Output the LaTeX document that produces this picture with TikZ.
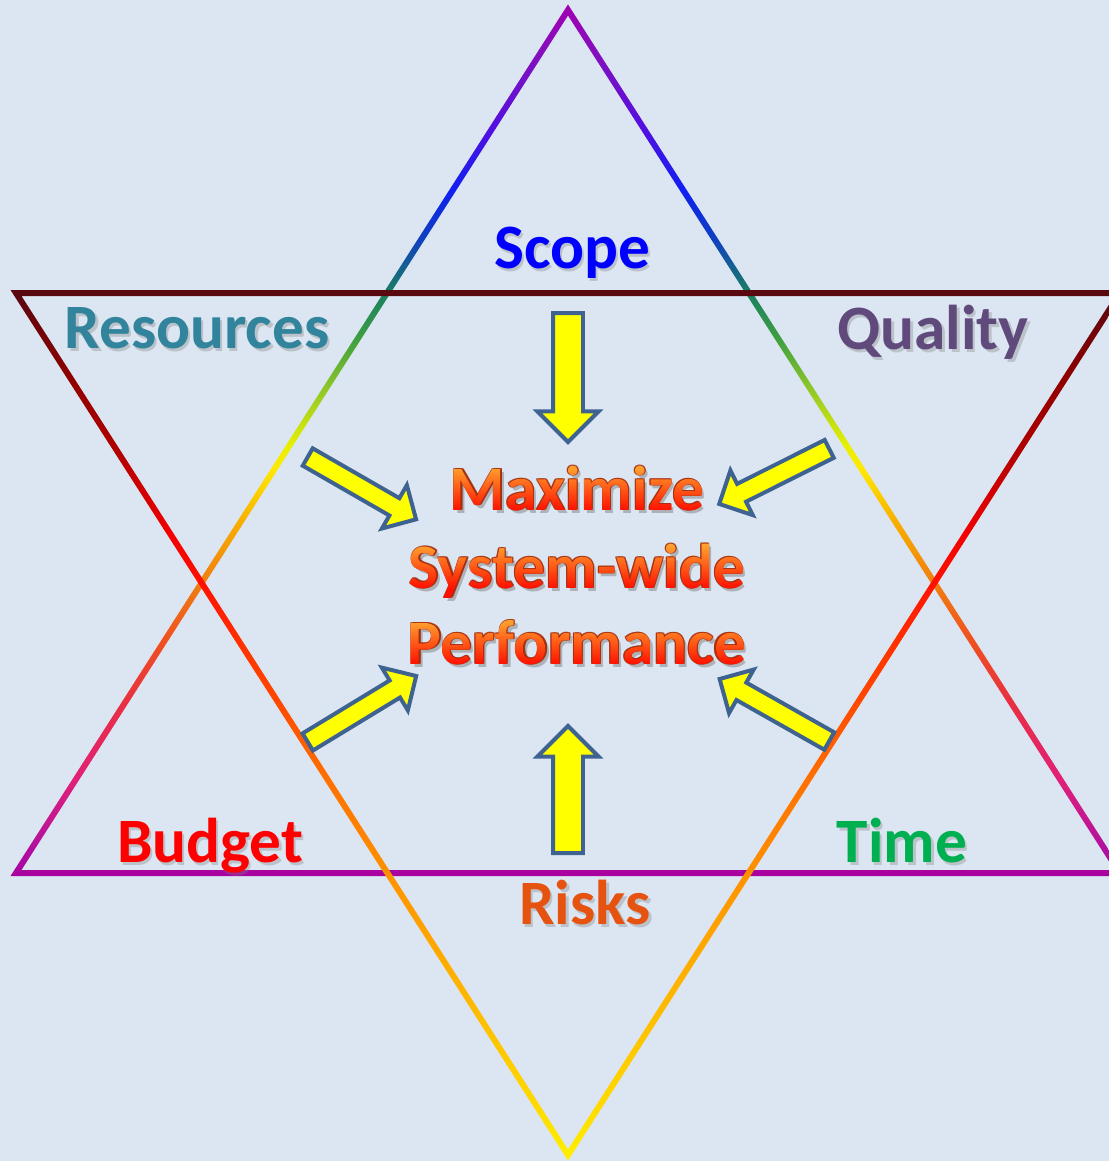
\documentclass[tikz,border=0pt]{standalone}
\usepackage{fontspec}
\setmainfont{Carlito}
\usetikzlibrary{calc,fadings,shapes.arrows}

\definecolor{paper}{HTML}{DCE6F2}
\definecolor{arrowrim}{HTML}{3E6391}
\definecolor{arrowfill}{HTML}{FFFF00}
\definecolor{scopeblue}{HTML}{0000FF}
\definecolor{resteal}{HTML}{31849B}
\definecolor{qualpurple}{HTML}{604A7B}
\definecolor{budgetred}{HTML}{FF0000}
\definecolor{timegreen}{HTML}{00B050}
\definecolor{riskorange}{HTML}{E65310}
\definecolor{glowtop}{HTML}{FFDB40}
\definecolor{glowbase}{HTML}{FF1000}
\definecolor{glowrim}{HTML}{A52A0A}

\newcommand\factorfont{\fontsize{36}{40}\selectfont\bfseries}

% rainbow rims, 25bp..75bp covers the ring from bottom to top
\pgfdeclareverticalshading{rimup}{100bp}{
  rgb(0bp)=(0.659,0,0.627); rgb(25bp)=(0.659,0,0.627);
  rgb(26.5bp)=(0.69,0.063,0.627); rgb(30.5bp)=(0.878,0.125,0.478);
  rgb(35.1bp)=(0.91,0.188,0.251); rgb(38.5bp)=(0.941,0.314,0.125);
  rgb(42bp)=(0.941,0.502,0.063); rgb(45.4bp)=(0.973,0.69,0);
  rgb(48.3bp)=(1,0.91,0); rgb(49.7bp)=(0.91,0.941,0);
  rgb(52.9bp)=(0.565,0.784,0.157); rgb(55.75bp)=(0.251,0.627,0.251);
  rgb(58.4bp)=(0.102,0.502,0.376); rgb(61.5bp)=(0.063,0.251,0.753);
  rgb(64.35bp)=(0.063,0.125,0.941); rgb(67.8bp)=(0.314,0.063,0.878);
  rgb(71.8bp)=(0.502,0.063,0.753); rgb(75bp)=(0.627,0,0.69);
  rgb(100bp)=(0.627,0,0.69)}
\pgfdeclareverticalshading{rimdown}{100bp}{
  rgb(0bp)=(1,0.941,0); rgb(25bp)=(1,0.941,0);
  rgb(28.5bp)=(1,0.847,0); rgb(34.2bp)=(1,0.722,0);
  rgb(41.7bp)=(1,0.565,0); rgb(46.9bp)=(1,0.439,0);
  rgb(51.5bp)=(1,0.282,0); rgb(54.9bp)=(1,0.188,0);
  rgb(58.3bp)=(1,0.063,0); rgb(61.2bp)=(0.941,0,0);
  rgb(65.8bp)=(0.69,0,0); rgb(69.8bp)=(0.565,0,0);
  rgb(75bp)=(0.345,0.031,0.063); rgb(100bp)=(0.345,0.031,0.063)}

% letter masks for the centre slogan (14cm x 2.4cm each)
\begin{tikzfadingfrompicture}[name=fade maxim]
  \useasboundingbox (-7,-1.2) rectangle (7,1.2);
  \node[anchor=base, inner sep=0pt, text=transparent!0, font=\factorfont] (maximMask) at (0,0) {Maximize};
\end{tikzfadingfrompicture}
\begin{tikzfadingfrompicture}[name=fade system]
  \useasboundingbox (-7,-1.2) rectangle (7,1.2);
  \node[anchor=base, inner sep=0pt, text=transparent!0, font=\factorfont] (systemMask) at (0,0) {System-wide};
\end{tikzfadingfrompicture}
\begin{tikzfadingfrompicture}[name=fade perform]
  \useasboundingbox (-7,-1.2) rectangle (7,1.2);
  \node[anchor=base, inner sep=0pt, text=transparent!0, font=\factorfont] (performMask) at (0,0) {Performance};
\end{tikzfadingfrompicture}

\begin{document}
\begin{tikzpicture}[x=0.02cm, y=-0.02cm,
    factor/.style={font=\factorfont, anchor=base, inner sep=0pt},
    dropshadow/.style={factor, text=black!50, opacity=.35},
    bigarrow/.style={single arrow, draw=arrowrim, fill=arrowfill, line width=0.08cm,
      inner xsep=0pt, inner ysep=0.26cm, anchor=tail, single arrow head extend=0.31cm},
    slimarrow/.style={bigarrow, inner ysep=0.16cm, single arrow head extend=0.3cm}]
    \useasboundingbox (0,0) rectangle (1109,1161);
    \fill[paper] (0,0) rectangle (1109,1161);
    \clip (0,0) rectangle (1109,1161);

    % triangle pointing up
    \coordinate (upTop) at (568,10);
    \coordinate (upLeft) at (16,873);
    \coordinate (upRight) at (1120,873);
    \coordinate (upMid) at (568,570.8);
    \shade[shading=rimup, even odd rule]
        ($(upMid)!1.0099!(upTop)$) -- ($(upMid)!1.0099!(upLeft)$) -- ($(upMid)!1.0099!(upRight)$) -- cycle
        ($(upMid)!0.9901!(upTop)$) -- ($(upMid)!0.9901!(upLeft)$) -- ($(upMid)!0.9901!(upRight)$) -- cycle;

    % triangle pointing down
    \coordinate (dnLeft) at (16,293);
    \coordinate (dnRight) at (1120,293);
    \coordinate (dnBottom) at (568,1155);
    \coordinate (dnMid) at (568,595);
    \shade[shading=rimdown, even odd rule]
        ($(dnMid)!1.0099!(dnLeft)$) -- ($(dnMid)!1.0099!(dnRight)$) -- ($(dnMid)!1.0099!(dnBottom)$) -- cycle
        ($(dnMid)!0.9901!(dnLeft)$) -- ($(dnMid)!0.9901!(dnRight)$) -- ($(dnMid)!0.9901!(dnBottom)$) -- cycle;

    \foreach \name/\x/\y/\col/\txt in {scope/572/268/scopeblue/Scope, resources/197/348/resteal/Resources,
        quality/933/349/qualpurple/Quality, budget/210/862/budgetred/Budget,
        time/902/862/timegreen/Time, risks/585/924/riskorange/Risks} {
        \node[dropshadow] (\name-shadow) at (\x+2.5,\y+3) {\txt};
        \node[factor, text=\col] (\name) at (\x,\y) {\txt};
    }

    \node[bigarrow, rotate=-90, minimum height=2.58cm] (scopeArrow) at (568,311) {};
    \node[bigarrow, rotate=90, minimum height=2.54cm] (risksArrow) at (568,855) {};
    \node[slimarrow, rotate=-29.9, minimum height=2.5cm] (resourcesArrow) at (306,456) {};
    \node[slimarrow, rotate=-153.4, minimum height=2.46cm] (qualityArrow) at (831,448) {};
    \node[slimarrow, rotate=31.3, minimum height=2.54cm] (budgetArrow) at (306,743) {};
    \node[slimarrow, rotate=150.5, minimum height=2.52cm] (timeArrow) at (831,742) {};

    % the fit scales a 50bp square onto the box, so undo it
    \foreach \nm/\y/\txt in {maxim/510/Maximize, system/588/System-wide, perform/664/Performance} {
        \begin{scope}[shift={(577,\y)}]
            \node[dropshadow, opacity=.5] (\nm-shadow) at (3,3) {\txt};
            \foreach \k/\dx/\dy in {1/-0.8/-0.8, 2/0.8/-0.8, 3/-0.8/0.8, 4/0.8/0.8}
                \node[factor, text=glowrim, opacity=.8] (\nm-rim\k) at (\dx,\dy) {\txt};
            \shade[path fading=fade \nm, fading transform={xscale=0.125992, yscale=0.734961},
                top color=glowtop, bottom color=glowbase!85!black, middle color=glowbase]
                (-350,-60) rectangle (350,60);
        \end{scope}
    }
\end{tikzpicture}
\end{document}
